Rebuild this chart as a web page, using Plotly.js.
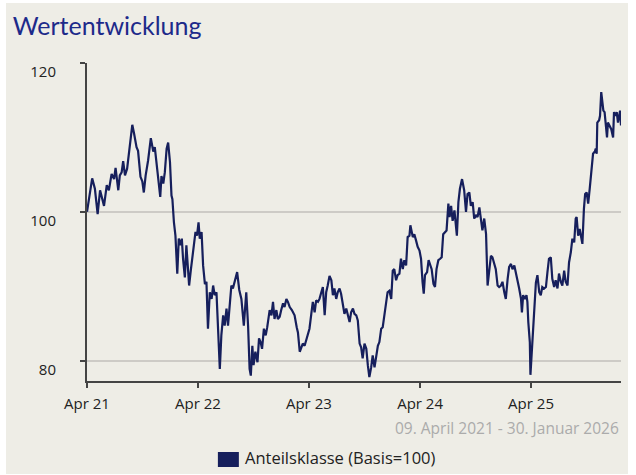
<!DOCTYPE html>
<html><head><meta charset="utf-8">
<script src="https://cdn.plot.ly/plotly-3.0.1.min.js"></script>
<style>html,body{margin:0;padding:0;background:#ffffff;}#chart{position:absolute;left:6px;top:3px;width:622px;height:471px;}</style>
</head><body><div id="chart"></div><script>
// Day offsets from 09. April 2021 and index values (Basis=100)
var startDate = '2021-04-09';
var endDate = '2026-01-30';
var dayOffsets = [0,7,17,26,35,43,48,56,65,72,81,89,94,103,108,114,119,125,132,139,149,155,163,168,176,182,187,193,201,210,218,223,229,236,241,245,251,256,262,267,273,278,281,286,291,297,302,308,312,316,322,327,333,336,342,349,357,362,367,371,377,382,388,393,398,404,410,415,420,426,431,437,442,448,453,459,464,470,475,480,486,494,501,508,516,524,530,535,539,544,548,554,561,566,571,576,582,588,593,601,607,612,617,623,628,634,639,645,650,656,661,667,674,683,690,694,700,705,710,716,722,727,732,738,743,749,754,760,765,771,776,782,787,792,798,804,809,814,820,825,831,836,842,847,853,858,864,869,875,880,886,891,897,902,907,913,919,924,929,935,940,946,951,957,962,968,973,979,984,989,995,1001,1006,1011,1017,1022,1028,1033,1039,1044,1050,1055,1061,1064,1072,1077,1083,1088,1094,1099,1104,1108,1112,1119,1124,1130,1134,1140,1145,1150,1156,1162,1167,1172,1178,1183,1189,1193,1198,1203,1209,1214,1217,1222,1227,1234,1241,1247,1252,1258,1263,1269,1274,1280,1285,1291,1296,1301,1307,1313,1318,1323,1329,1334,1340,1345,1351,1356,1362,1367,1373,1378,1384,1389,1395,1400,1406,1411,1416,1422,1428,1431,1435,1441,1446,1449,1452,1457,1459,1464,1468,1471,1477,1482,1488,1493,1498,1504,1510,1515,1520,1526,1531,1537,1542,1548,1553,1559,1564,1570,1575,1581,1586,1592,1597,1603,1608,1611,1616,1621,1625,1630,1635,1639,1644,1649,1654,1659,1665,1671,1674,1677,1679,1685,1688,1692,1696,1699,1703,1707,1711,1714,1720,1725,1731,1734,1740,1743,1747,1750,1754,1757];
var indexValues = [100.0,101.7,104.5,103.1,99.7,102.9,102.1,100.8,103.6,102.9,105.1,104.4,105.9,102.9,104.9,105.3,106.8,104.9,105.8,108.0,111.7,110.5,108.7,108.2,104.7,104.1,102.6,104.9,106.9,109.9,108.1,108.7,106.2,103.1,102.0,104.8,103.8,105.3,108.5,109.3,106.7,102.2,101.7,98.6,96.8,91.7,96.4,95.5,96.4,93.7,91.2,95.5,91.9,90.1,92.3,94.4,97.3,96.8,98.6,96.4,97.3,92.8,90.3,90.6,84.3,89.2,88.3,90.1,88.8,89.2,84.3,78.9,83.4,86.1,84.7,87.0,84.7,88.3,90.1,89.7,90.6,91.9,89.5,88.3,84.7,89.2,84.7,78.9,78.0,82.0,79.4,81.2,79.8,83.0,82.5,81.6,84.3,83.4,84.5,86.8,86.1,87.9,85.6,86.8,85.6,85.9,86.8,87.7,87.2,88.3,87.9,87.2,86.8,86.1,84.5,83.8,81.2,81.8,82.3,82.0,83.0,83.6,84.3,86.3,87.9,86.5,88.1,87.9,88.3,89.2,89.9,86.1,89.2,90.1,91.4,90.8,88.8,89.7,88.3,89.2,89.7,89.0,87.7,86.3,87.0,86.1,85.2,86.5,87.0,86.3,86.1,85.4,82.3,81.8,80.3,82.3,81.6,79.4,77.8,79.1,80.7,79.1,80.7,82.0,82.5,84.3,84.5,86.5,87.4,89.2,89.4,88.3,92.1,92.3,90.8,91.5,91.7,93.7,92.3,93.5,92.8,96.6,96.8,98.2,96.6,97.0,96.1,95.3,94.8,93.7,90.6,89.0,91.5,91.9,93.5,92.6,92.3,90.3,89.9,92.3,93.5,93.7,93.9,97.0,97.3,97.5,101.1,99.3,100.8,98.8,100.2,98.2,96.8,101.3,103.1,104.4,102.9,100.0,102.4,102.6,100.8,101.3,99.1,99.5,99.3,100.6,99.1,97.5,99.1,97.0,90.1,92.3,94.1,93.9,92.8,92.3,90.1,89.9,90.1,90.6,89.2,88.3,91.0,92.6,93.0,92.3,92.8,91.9,91.2,89.7,88.3,86.5,88.8,88.3,88.8,87.9,85.2,82.5,78.1,82.0,84.7,86.0,90.5,91.5,89.2,88.8,89.9,89.7,89.9,91.9,93.7,93.9,91.0,89.9,90.8,89.7,91.7,90.6,90.1,92.1,90.6,90.1,93.2,94.6,96.4,95.9,99.1,99.3,96.8,97.7,96.6,95.7,100.4,102.4,102.6,101.1,103.1,105.3,107.8,108.1,108.5,107.8,112.0,112.3,112.9,116.1,114.7,113.6,113.4,111.4,110.0,112.0,111.6,111.1,110.0,113.4,112.9,113.4,112.0,112.9,113.6,111.6];
var xTickDates = ['2021-04-09','2022-04-09','2023-04-09','2024-04-09','2025-04-09'];
var xTickLabels = ['Apr 21','Apr 22','Apr 23','Apr 24','Apr 25'];
var yTickValues = [80,100,120];
var yTickLabels = ['80','100','120'];
var seriesName = 'Anteilsklasse (Basis=100)';
var chartTitle = 'Wertentwicklung';
var periodText = '09. April 2021 - 30. Januar 2026';

var base = Date.UTC(2021,3,9);
var dates = dayOffsets.map(function(d){ return new Date(base + d*86400000).toISOString().slice(0,10); });

var navy = '#161f5c';
var titleFont = 'Lato, "Open Sans", sans-serif';
var textFont = '"Open Sans", Lato, sans-serif';

var trace = {
  x: dates, y: indexValues, type: 'scatter', mode: 'lines',
  name: seriesName, showlegend: false,
  line: {color: navy, width: 2.2}, hoverinfo: 'skip'
};

var layout = {
  width: 622, height: 471,
  paper_bgcolor: '#eeede6', plot_bgcolor: '#eeede6',
  margin: {l: 81, r: 7, t: 60, b: 93, pad: 0},
  showlegend: false,
  title: {text: chartTitle, font: {family: titleFont, size: 25, color: '#1d2a8a'},
          x: 0.011, xref: 'container', xanchor: 'left', y: 0.951, yref: 'container', yanchor: 'middle'},
  xaxis: {
    type: 'date', range: [startDate, endDate],
    tickmode: 'array', tickvals: xTickDates, ticktext: xTickLabels,
    showgrid: false, zeroline: false,
    showline: true, linecolor: '#444444', linewidth: 2,
    ticks: 'outside', ticklen: 5, tickwidth: 2, tickcolor: '#444444',
    ticklabelstandoff: 3,
    tickfont: {family: textFont, size: 15, color: '#222222'},
    fixedrange: true
  },
  yaxis: {
    range: [77.27, 120],
    tickmode: 'array', tickvals: yTickValues, ticktext: yTickLabels,
    showgrid: true, gridcolor: '#cdcbc6', gridwidth: 2, zeroline: false,
    showline: true, linecolor: '#444444', linewidth: 2,
    ticks: 'outside', ticklen: 5, tickwidth: 2, tickcolor: '#444444',
    ticklabelstandoff: 21, ticklabelshift: 9,
    tickfont: {family: textFont, size: 15, color: '#222222'},
    fixedrange: true
  },
  shapes: [
    {type: 'rect', xref: 'paper', yref: 'paper', x0: 0.2451, x1: 0.2844, y0: -0.2233, y1: -0.2704,
     fillcolor: navy, line: {width: 0}}
  ],
  annotations: [
    {text: periodText, xref: 'paper', yref: 'paper', x: 1, y: -0.147, xanchor: 'right', yanchor: 'middle',
     showarrow: false, font: {family: textFont, size: 15.5, color: '#ababab'}},
    {text: seriesName, xref: 'paper', yref: 'paper', x: 0.2926, y: -0.2421, xanchor: 'left', yanchor: 'middle',
     showarrow: false, font: {family: textFont, size: 16.5, color: '#222222'}}
  ]
};

Plotly.newPlot('chart', [trace], layout, {displayModeBar: false, staticPlot: true});
</script></body></html>
